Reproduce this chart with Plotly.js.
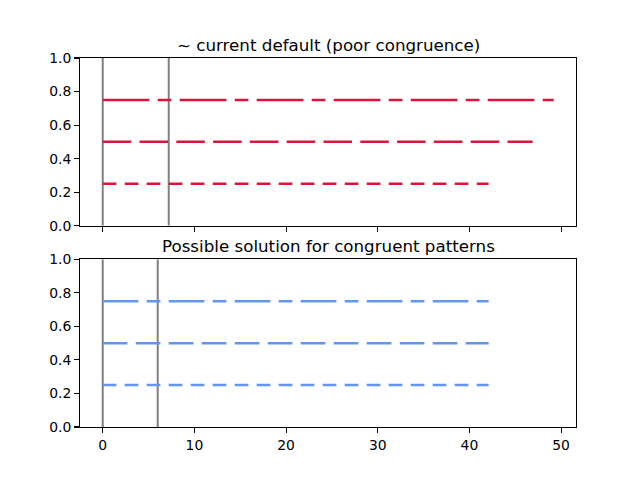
<!DOCTYPE html>
<html><head><meta charset="utf-8">
<script src="https://cdn.plot.ly/plotly-3.0.1.min.js"></script>
<style>html,body{margin:0;padding:0;background:#fff}#c{width:640px;height:480px}</style>
</head><body><div id="c"></div>
<script>
// data
const levels = [0.25, 0.5, 0.75];
const topEnds = [42.1, 46.9, 49.2];
const bottomEnds = [42.1, 42.1, 42.1];
const topMarks = [0, 7.2];
const bottomMarks = [0, 6.0];
const titles = ["~ current default (poor congruence)", "Possible solution for congruent patterns"];
const xTicks = [0, 10, 20, 30, 40, 50];
const yTicks = [0, 0.2, 0.4, 0.6, 0.8, 1.0];

const topDashes = ["13.7px,8.3px", "28.5px,8.3px", "46.7px,8.3px,13.7px,8.3px"];
const botDashes = ["13.7px,8.3px", "24.7px,8.3px", "35.7px,8.3px,13.7px,8.3px"];

const traces = [];
function addMarks(marks, xa, ya) {
  marks.forEach(m => traces.push({x: [m, m], y: [0, 1], xaxis: xa, yaxis: ya, mode: 'lines',
    line: {color: '#808080', width: 2}, showlegend: false, hoverinfo: 'skip'}));
}
function addLines(ends, dashes, color, xa, ya) {
  levels.forEach((lv, i) => traces.push({x: [0, ends[i]], y: [lv, lv], xaxis: xa, yaxis: ya, mode: 'lines',
    line: {color: color, width: 2.5, dash: dashes[i]}, showlegend: false, hoverinfo: 'skip'}));
}
addMarks(topMarks, 'x', 'y');
addLines(topEnds, topDashes, '#DC143C', 'x', 'y');
addMarks(bottomMarks, 'x2', 'y2');
addLines(bottomEnds, botDashes, '#6495ED', 'x2', 'y2');

const font = {family: 'DejaVu Sans', size: 13.9, color: '#000'};
const axCommon = {showline: true, mirror: true, linecolor: '#000', linewidth: 1.1,
  ticks: 'outside', ticklen: 4.9, tickwidth: 1.1, tickcolor: '#000', showgrid: false, zeroline: false,
  tickfont: font};
const xr = [-2.48, 51.63];
const layout = {
  width: 640, height: 480, paper_bgcolor: '#fff', plot_bgcolor: '#fff',
  margin: {l: 80, r: 64, t: 57.6, b: 52.8, pad: 0},
  font: font,
  xaxis: Object.assign({}, axCommon, {range: xr, tickvals: xTicks, showticklabels: false, anchor: 'y', domain: [0, 1], matches: 'x2'}),
  yaxis: Object.assign({}, axCommon, {range: [0, 1], tickvals: yTicks, tickformat: '.1f', domain: [0.5455, 1], anchor: 'x'}),
  xaxis2: Object.assign({}, axCommon, {range: xr, tickvals: xTicks, anchor: 'y2', domain: [0, 1]}),
  yaxis2: Object.assign({}, axCommon, {range: [0, 1], tickvals: yTicks, tickformat: '.1f', domain: [0, 0.4545], anchor: 'x2'}),
  annotations: [
    {text: titles[0], xref: 'paper', yref: 'paper', x: 0.5, y: 1, xanchor: 'center', yanchor: 'bottom', yshift: 1, showarrow: false, font: {family: 'DejaVu Sans', size: 16.7, color: '#000'}},
    {text: titles[1], xref: 'paper', yref: 'paper', x: 0.5, y: 0.4545, xanchor: 'center', yanchor: 'bottom', yshift: 1, showarrow: false, font: {family: 'DejaVu Sans', size: 16.7, color: '#000'}}
  ]
};
Plotly.newPlot('c', traces, layout, {staticPlot: true, displayModeBar: false});
</script></body></html>
